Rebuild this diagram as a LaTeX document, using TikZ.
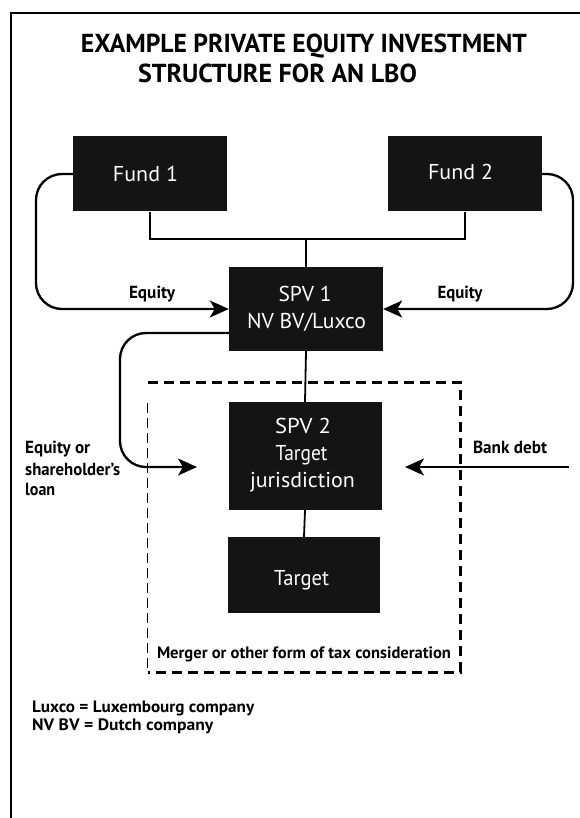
\documentclass[tikz,border=0pt]{standalone}
\usepackage{fontspec}
\setmainfont{PT Sans}
\usetikzlibrary{arrows.meta}
\definecolor{boxblack}{HTML}{141414}
\newcommand\fw[2]{\resizebox{#1}{\height}{#2}}
\begin{document}
\begin{tikzpicture}[x=1pt,y=-1pt,
  box/.style={fill=boxblack, draw=none, inner sep=0pt},
  boxtxt/.style={text=white, font=\fontsize{21.5}{21.5}\selectfont, anchor=base, inner sep=0pt},
  lbl/.style={font=\bfseries\fontsize{17.5}{17.5}\selectfont, anchor=base, inner sep=0pt},
  small/.style={font=\bfseries\fontsize{16.5}{16.5}\selectfont, anchor=base, inner sep=0pt},
  ttl/.style={font=\bfseries\fontsize{26}{26}\selectfont, anchor=base, inner sep=0pt},
  conn/.style={line width=1.8pt},
  arr/.style={line width=2.3pt, rounded corners=26pt, -{Stealth[length=19pt,width=17pt,inset=5pt]}},
  dashbox/.style={line width=3pt, dash pattern=on 10pt off 6pt},
  thindash/.style={line width=0.8pt, dash pattern=on 10pt off 5pt}
]
\useasboundingbox (0,0) rectangle (580,818);
\fill[white] (0,0) rectangle (580,818);
% frame
\draw[line width=2.5pt] (11,818) -- (11,13) -- (580,13);
% title
\node[ttl] (title1) at (304,53) {\fw{446pt}{EXAMPLE PRIVATE EQUITY INVESTMENT}};
\node[ttl] (title2) at (277.5,83) {\fw{279pt}{STRUCTURE FOR AN LBO}};
% boxes
\node[box, minimum width=154pt, minimum height=75pt] (fund1) at (150,174) {};
\node[box, minimum width=154pt, minimum height=75pt] (fund2) at (465,174) {};
\node[box, minimum width=154pt, minimum height=84pt] (spv1) at (306,309) {};
\node[box, minimum width=153pt, minimum height=108pt] (spv2) at (305,456) {};
\node[box, minimum width=152pt, minimum height=76pt] (target) at (304,575) {};
% box texts
\node[boxtxt] (fund1t) at (145.5,182) {\fw{65pt}{Fund 1}};
\node[boxtxt] (fund2t) at (460.5,180) {\fw{65pt}{Fund 2}};
\node[boxtxt] (spv1a) at (305,301) {\fw{53pt}{SPV 1}};
\node[boxtxt] (spv1b) at (306.5,328) {\fw{119pt}{NV BV/Luxco}};
\node[boxtxt] (spv2a) at (303,433) {\fw{56pt}{SPV 2}};
\node[boxtxt] (spv2b) at (301.5,460) {\fw{52pt}{Target}};
\node[boxtxt] (spv2c) at (302.5,487) {\fw{105pt}{jurisdiction}};
\node[boxtxt] (targett) at (301.5,585) {\fw{55pt}{Target}};
% ownership connectors
\coordinate (bus) at (306,239);
\draw[conn] (fund1.south) -- (fund1.south |- bus) -- (fund2.south |- bus) -- (fund2.south);
\draw[conn] (bus) -- (spv1.north);
\draw[conn] (spv1.south) -- (spv2.north);
\draw[conn] (spv2.south) -- (target.north);
% equity arrows
\draw[arr] (fund1.west) -- (36,174) |- (spv1.west);
\draw[arr] (fund2.east) -- (573,174) |- (spv1.east);
% loan loop
\coordinate (loanstart) at ([yshift=-24pt]spv1.west);
\coordinate (loanend) at (197,467);
\draw[arr] (loanstart) -- (120,333) |- (loanend);
% bank debt
\coordinate (bankstart) at (569,467);
\coordinate (bankend) at (405,467);
\draw[arr] (bankstart) -- (bankend);
% dashed merger box
\draw[dashbox] (148,382) -- (460,382) -- (460,672) -- (148,672);
\draw[thindash] (147,403) -- (147,672);
% labels
\node[lbl] (eqL) at (152,298) {\fw{46pt}{Equity}};
\node[lbl] (eqR) at (460,298) {\fw{45pt}{Equity}};
\node[lbl] (bank) at (510,453) {\fw{74pt}{Bank debt}};
\node[lbl, anchor=base west] (loan1) at (25,453) {\fw{65pt}{Equity or}};
\node[lbl, anchor=base west] (loan2) at (25,475) {\fw{95pt}{shareholder's}};
\node[lbl, anchor=base west] (loan3) at (25,495) {\fw{30pt}{loan}};
\node[small] (merger) at (304,658) {\fw{294pt}{Merger or other form of tax consideration}};
\node[small, anchor=base west] (note1) at (32,712) {\fw{222pt}{Luxco = Luxembourg company}};
\node[small, anchor=base west] (note2) at (32,730) {\fw{181pt}{NV BV = Dutch company}};
\end{tikzpicture}
\end{document}
